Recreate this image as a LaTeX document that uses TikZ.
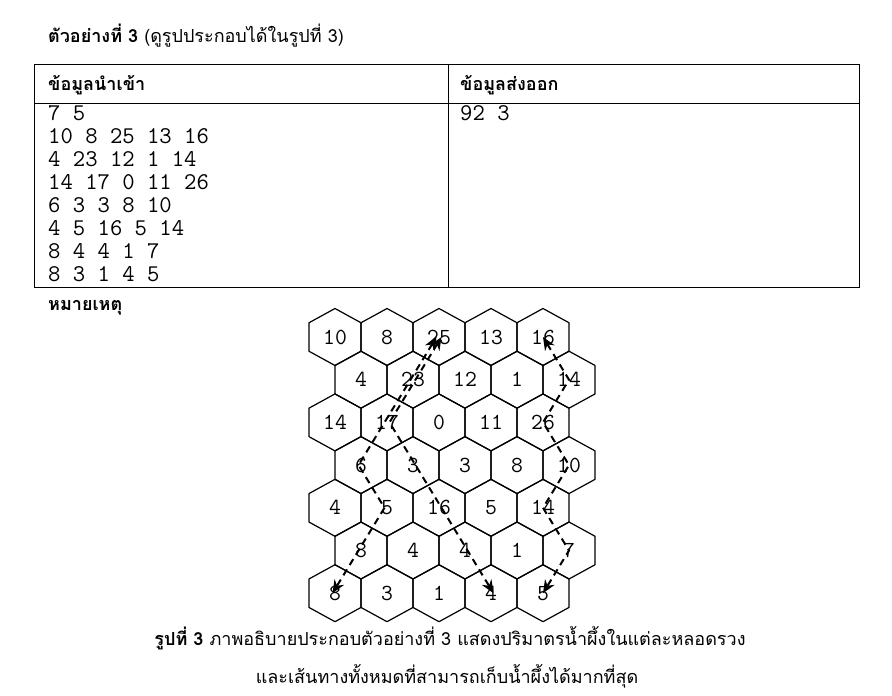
\documentclass[tikz,border=0pt]{standalone}
\usepackage{fontspec}
\setmainfont[Script=Thai]{Loma}
\usepackage{tikz}
\usetikzlibrary{arrows.meta}

\tikzset{
  thaitext/.style={font=\fontsize{18}{21}\selectfont, anchor=base west, inner sep=0pt},
  monotext/.style={font=\ttfamily\fontsize{24}{26}\selectfont, anchor=base west, inner sep=0pt},
  cellnum/.style={font=\ttfamily\fontsize{23}{26}\selectfont, inner sep=0pt},
  hexcell/.style={line width=1.2pt, line join=round},
  route/.style={dashed, dash pattern=on 7pt off 5pt, line width=2pt, {Stealth[length=13pt,width=11pt]}-{Stealth[length=13pt,width=11pt]}}
}

\begin{document}
\begin{tikzpicture}[x=1pt, y=-1pt]
			\useasboundingbox (0,0) rectangle (892,696);

			% Titulo
			\node[thaitext] (title) at (48,42) {\textbf{ตัวอย่างที่ 3} (ดูรูปประกอบได้ในรูปที่ 3)};

			% Tabla de entrada y salida
			\draw[line width=1pt] (34,64) rectangle (859,287);
			\draw[line width=1pt] (34,103) -- (859,103);
			\draw[line width=1pt] (448,64) -- (448,287);
			\node[thaitext] (inhead) at (48,90) {\textbf{ข้อมูลนำเข้า}};
			\node[thaitext] (outhead) at (460,90) {\textbf{ข้อมูลส่งออก}};
			\foreach \ln [count=\i from 0] in {7 5, 10 8 25 13 16, 4 23 12 1 14, 14 17 0 11 26, 6 3 3 8 10, 4 5 16 5 14, 8 4 4 1 7, 8 3 1 4 5}
				\node[monotext] (in-\i) at (48,120+23.1*\i) {\ln};
			\node[monotext] (out-0) at (460,120) {92 3};

			\node[thaitext] (note) at (48,310) {\textbf{หมายเหตุ}};

			% Panal de celdas
			\foreach \row [count=\r from 0] in {{10,8,25,13,16},{4,23,12,1,14},{14,17,0,11,26},{6,3,3,8,10},{4,5,16,5,14},{8,4,4,1,7},{8,3,1,4,5}} {
				\foreach \v [count=\c from 0] in \row {
					\pgfmathsetmacro{\hx}{335+52*\c+26*mod(\r,2)}
					\pgfmathsetmacro{\hy}{337+42.7*\r}
					\draw[hexcell] (\hx,\hy) ++(0,-28.5) -- ++(26,14.25) -- ++(0,28.5) -- ++(-26,14.25) -- ++(-26,-14.25) -- ++(0,-28.5) -- cycle;
					\node[cellnum] (h-\r-\c) at (\hx,\hy) {\v};
				}
			}

			% Caminos de mayor cantidad
			\draw[route, transform canvas={xshift=-2.5pt}] (h-0-2.center) -- (h-1-1.center) -- (h-2-1.center) -- (h-3-0.center) -- (h-4-1.center) -- (h-5-0.center) -- (h-6-0.center);
			\draw[route, transform canvas={xshift=2.5pt}] (h-0-2.center) -- (h-1-1.center) -- (h-2-1.center) -- (h-3-1.center) -- (h-4-2.center) -- (h-5-2.center) -- (h-6-3.center);
			\draw[route] (h-0-4.center) -- (h-1-4.center) -- (h-2-4.center) -- (h-3-4.center) -- (h-4-4.center) -- (h-5-4.center) -- (h-6-4.center);

			% Leyenda
			\node[thaitext, anchor=base] (cap1) at (450,645) {\textbf{รูปที่ 3} ภาพอธิบายประกอบตัวอย่างที่ 3 แสดงปริมาตรน้ำผึ้งในแต่ละหลอดรวง};
			\node[thaitext, anchor=base] (cap2) at (447,683) {และเส้นทางทั้งหมดที่สามารถเก็บน้ำผึ้งได้มากที่สุด};

		\end{tikzpicture}
\end{document}
